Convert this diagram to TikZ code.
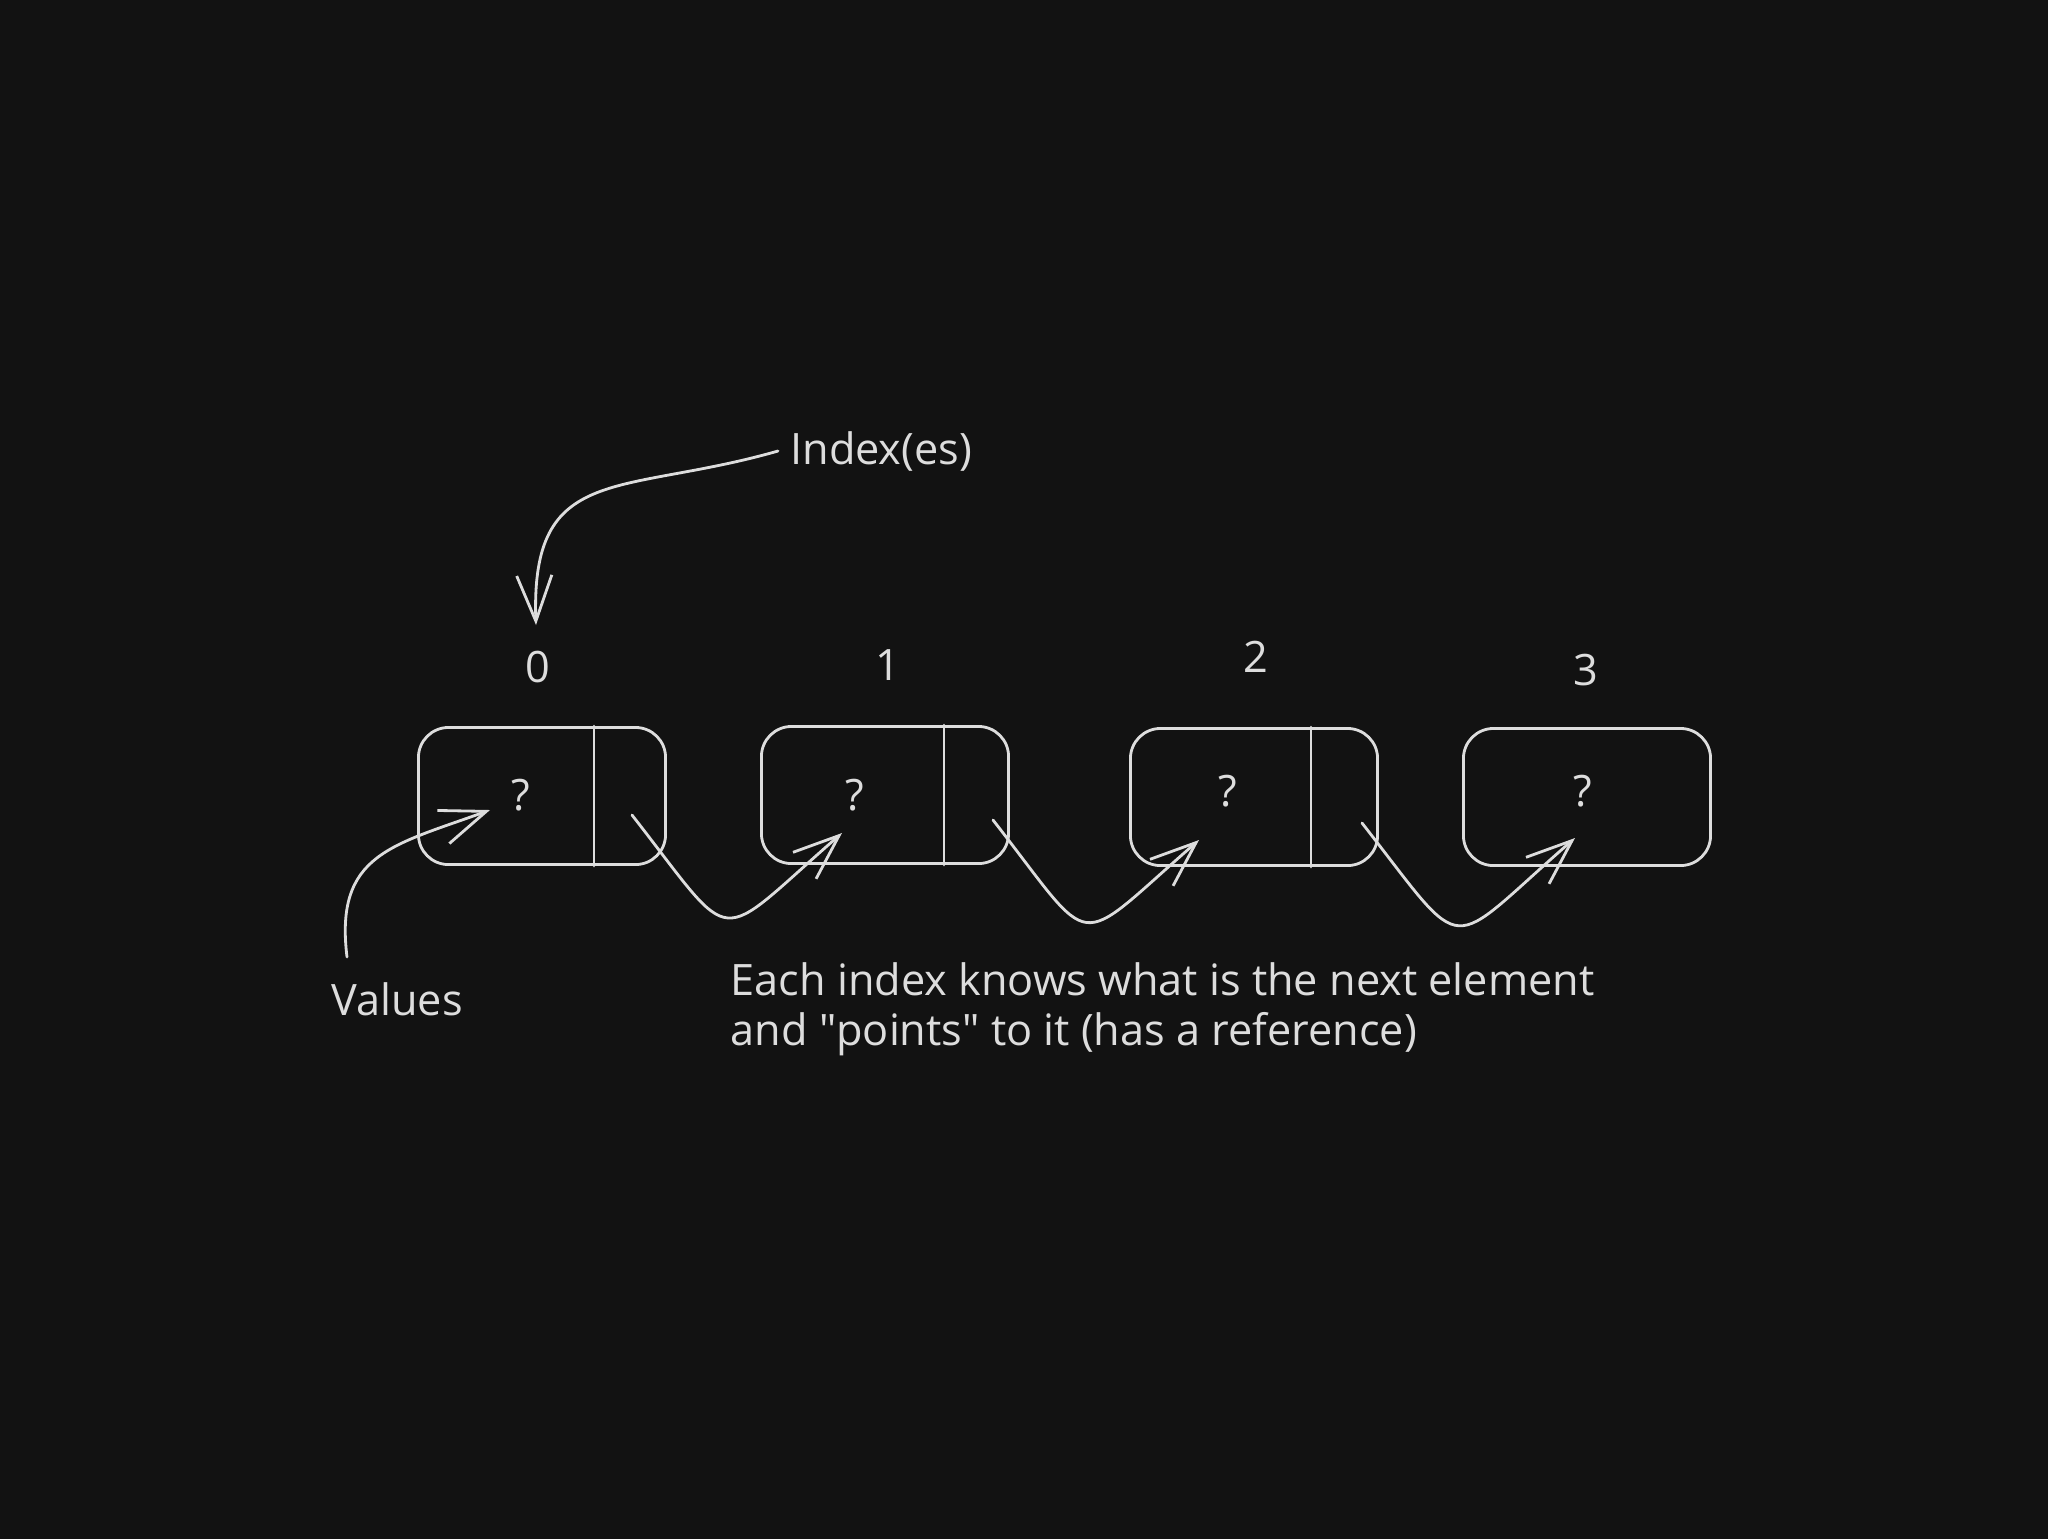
\documentclass[tikz,border=0pt]{standalone}
\usepackage{fontspec}
\setmainfont{Open Sans}
\usetikzlibrary{arrows.meta}
\definecolor{ink}{HTML}{DDDDDD}
\definecolor{board}{HTML}{121212}
\begin{document}
\begin{tikzpicture}[x=0.01cm,y=-0.01cm,>={Straight Barb[length=13pt,width=10pt]}, font=\fontsize{12.3}{14.2}\selectfont, line join=round, line cap=round,
		every node/.style={text=ink},
		cell/.style={draw=ink, line width=0.8pt, rounded corners=0.3cm, minimum width=2.47cm, minimum height=1.37cm},
		link/.style={draw=ink, line width=0.8pt, ->}]
			\useasboundingbox (0,0) rectangle (2048,1538);
			\fill[board] (-10,-10) rectangle (2058,1548);
			% list cells
			\node[cell] (b0) at (542,796) {};
			\node[cell] (b1) at (885,795) {};
			\node[cell] (b2) at (1254,797) {};
			\node[cell] (b3) at (1587,797) {};
			\draw[ink, line width=0.8pt] ([xshift=0.52cm]b0.north) -- ([xshift=0.52cm]b0.south);
			\draw[ink, line width=0.8pt] ([xshift=0.59cm]b1.north) -- ([xshift=0.59cm]b1.south);
			\draw[ink, line width=0.8pt] ([xshift=0.57cm]b2.north) -- ([xshift=0.57cm]b2.south);
			\node (q0) at (521,795) {?};
			\node (q1) at (855,795) {?};
			\node (q2) at (1228,791) {?};
			\node (q3) at (1583,791) {?};
			% indexes
			\node (i0) at (538,667) {0};
			\node (i1) at (888,665) {1};
			\node (i2) at (1256,657) {2};
			\node (i3) at (1586,670) {3};
			\node (idx) at (778,451) [right] {Index(es)};
			\node (val) at (397,999) {Values};
			\node (note) at (730,962) [below right, align=left, inner sep=0pt] {Each index knows what is the next element\\and \textquotedbl points\textquotedbl{} to it (has a reference)};
			% arrow ends
			\coordinate (t0) at (536,625);
			\coordinate (vs) at (347,957);
			\coordinate (v0) at (490,810);
			\coordinate (p0) at (632,815);
			\coordinate (v1) at (842,833);
			\coordinate (p1) at (993,820);
			\coordinate (v2) at (1199,840);
			\coordinate (p2) at (1362,823);
			\coordinate (v3) at (1575,838);
			\draw[link] (idx.west) to[out=196,in=92,looseness=1.4] (t0);
			\draw[link] (vs) to[out=97,in=200,looseness=1.3] (v0);
			\draw[link] (p0) to[out=-52,in=-139,looseness=2.1] (v1);
			\draw[link] (p1) to[out=-52,in=-139,looseness=2.1] (v2);
			\draw[link] (p2) to[out=-52,in=-139,looseness=2.1] (v3);
\end{tikzpicture}
\end{document}
